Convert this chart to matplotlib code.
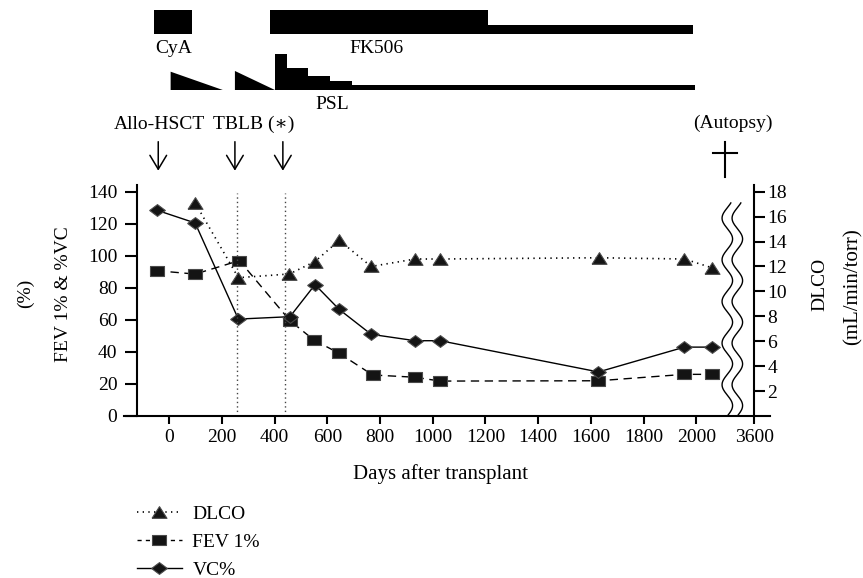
import numpy as np
import matplotlib
matplotlib.use("Agg")
import matplotlib.pyplot as plt
from matplotlib.transforms import blended_transform_factory

plt.rcParams["font.family"] = ["Liberation Serif", "DejaVu Serif"]
plt.rcParams["font.size"] = 14

# ---------------------------------------------------------------------------
# Data (days after transplant)
# ---------------------------------------------------------------------------
VC_DAYS = [-48, 98, 262, 458, 553, 645, 766, 933, 1028, 1629, 1955, 2059]
VC = [128.5, 120.5, 60.5, 62, 82, 66.5, 51, 47, 47, 27.5, 43, 43]

FEV_DAYS = [-48, 98, 266, 458, 549, 645, 772, 933, 1028, 1629, 1955, 2059]
FEV1 = [90.7, 88.6, 97, 59.5, 47.4, 39.1, 25.6, 24.2, 21.8, 22, 26, 26]

DLCO_DAYS = [98, 262, 456, 553, 645, 766, 933, 1028, 1631, 1955, 2059]
DLCO = [17.1, 11.1, 11.4, 12.4, 14.1, 12.0, 12.6, 12.6, 12.7, 12.6, 11.9]

XTICKS = [0, 200, 400, 600, 800, 1000, 1200, 1400, 1600, 1800, 2000]
BREAK_POS = 2220          # position of the "3600" tick after the axis break
BREAK_LABEL = "3600"
EVENT_LINES = [256, 439]  # TBLB and (*)
ARROW_DAYS = [-42, 249, 431]
AUTOPSY_POS = 2110

# treatment schedules: (start, end) in days, dose levels in relative units
CYA = (-58, 85)
FK506_HIGH = (382, 1211)
FK506_LOW = (1211, 1987)
PSL_TAPER_START = [5, 249]
PSL_TAPER_END = [203, 401]
PSL_TAPER_LEVEL = [1.0, 1.04]
PSL_STEP_START = [401, 446, 528, 610, 693]
PSL_STEP_END = [446, 528, 610, 693, 1996]
PSL_STEP_LEVEL = [1.95, 1.19, 0.78, 0.51, 0.27]

W, H = 863, 578


def fx(px):
    return px / W


def fy(py):
    return 1 - py / H


# custom marker shapes (wider than tall, like the original)
TRI = [(-1, -0.78), (1, -0.78), (0, 0.78), (-1, -0.78)]
SQR = [(-1, -0.7), (1, -0.7), (1, 0.7), (-1, 0.7), (-1, -0.7)]
DIA = [(-1, 0), (0, 0.75), (1, 0), (0, -0.75), (-1, 0)]

fig = plt.figure(figsize=(W / 100, H / 100), dpi=100)
ax = fig.add_axes([fx(124), fy(416), fx(770) - fx(124), fy(185) - fy(416)])
ax.set_xlim(-172, 2280)
YTOP = 144.2
ax.set_ylim(0, YTOP)
ax2 = ax.twinx()
ax2.set_ylim(0, YTOP * 18 / 140)

mk = dict(color="black", mfc="#141414", mec="#4a4a4a", mew=0.8)
ax.plot(FEV_DAYS, FEV1, lw=1, dashes=(6, 4), marker=SQR, ms=10, **mk)
ax.plot(VC_DAYS, VC, lw=1, ls="-", marker=DIA, ms=11.3, **mk)
ax2.plot(DLCO_DAYS, DLCO, lw=1.2, dashes=(0.8, 2.6), marker=TRI, ms=10.8, **mk)

for d in EVENT_LINES:
    ax.plot([d, d], [0, 139.2], color="#444444", lw=1, dashes=(1, 2.2))

# axis break (two wavy lines)
yy = np.linspace(0.5, 133, 300)
for c in (2118, 2156):
    ax.plot(c + 20 * np.sin(2 * np.pi * yy / 26), yy, color="black", lw=1)

# axes styling
ax.set_xticks(XTICKS + [BREAK_POS])
ax.set_xticklabels([str(t) for t in XTICKS] + [BREAK_LABEL])
ax.set_yticks(range(0, 141, 20))
ax.tick_params(axis="y", direction="out", length=8.5, width=1.5, pad=6)
ax.tick_params(axis="x", direction="out", length=6, width=1.5, pad=3.5)
ax.spines["top"].set_visible(False)
ax.spines["right"].set_visible(False)
ax.spines["left"].set_position(("data", -121))
ax.spines["left"].set_linewidth(1.5)
ax.spines["bottom"].set_linewidth(1.5)

ax2.set_yticks(range(2, 19, 2))
ax2.tick_params(axis="y", direction="out", length=8, width=1.5, pad=1.5)
for s in ("top", "left", "bottom"):
    ax2.spines[s].set_visible(False)
ax2.spines["right"].set_position(("data", BREAK_POS))
ax2.spines["right"].set_linewidth(1.5)

fig.text(fx(25), fy(293), "(%)", rotation=90, ha="center", va="center")
fig.text(fx(63), fy(294), "FEV 1% & %VC", rotation=90, ha="center", va="center")
fig.text(fx(820), fy(284), "DLCO", rotation=90, ha="center", va="center")
fig.text(fx(853), fy(287), "(mL/min/torr)", rotation=90, ha="center",
         va="center", fontsize=15)
fig.text(fx(440), fy(479), "Days after transplant", ha="center", va="baseline",
         fontsize=15)

# event labels and arrows above the plot
fig.text(fx(159), fy(129), "Allo-HSCT", ha="center", va="baseline")
fig.text(fx(254), fy(129), "TBLB (\u2217)", ha="center", va="baseline")
fig.text(fx(733), fy(128), "(Autopsy)", ha="center", va="baseline")
for d in ARROW_DAYS:
    ax.annotate("", xy=(d, fy(170.7)), xytext=(d, fy(141.7)),
                xycoords=("data", "figure fraction"),
                textcoords=("data", "figure fraction"),
                annotation_clip=False,
                arrowprops=dict(arrowstyle="->,head_length=0.5,head_width=0.3",
                                lw=1.1, color="black", shrinkA=0, shrinkB=0,
                                mutation_scale=20))
blend = blended_transform_factory(ax.transData, fig.transFigure)
ax.plot([AUTOPSY_POS, AUTOPSY_POS], [fy(141.7), fy(176.7)], transform=blend,
        clip_on=False, color="black", lw=1.5)
ax.plot([AUTOPSY_POS - 45, AUTOPSY_POS + 45], [fy(152.7), fy(152.7)],
        transform=blend, clip_on=False, color="black", lw=1.5)

# treatment panel
top = fig.add_axes([fx(124), fy(110), fx(770) - fx(124), 110 / H], sharex=ax)
top.axis("off")
top.set_ylim(0, 110)
FK_BASE, FK_HIGH, FK_LOW = 76, 24.5, 9
PSL_BASE, PSL_UNIT = 20, 18.3
top.bar(CYA[0], FK_HIGH, width=CYA[1] - CYA[0], bottom=FK_BASE, align="edge",
        color="black")
top.bar(FK506_HIGH[0], FK_HIGH, width=FK506_HIGH[1] - FK506_HIGH[0],
        bottom=FK_BASE, align="edge", color="black")
top.bar(FK506_LOW[0], FK_LOW, width=FK506_LOW[1] - FK506_LOW[0],
        bottom=FK_BASE, align="edge", color="black")
for s, e, lv in zip(PSL_TAPER_START, PSL_TAPER_END, PSL_TAPER_LEVEL):
    top.fill([s, s, e], [PSL_BASE, PSL_BASE + lv * PSL_UNIT, PSL_BASE],
             color="black", lw=0)
top.bar(PSL_STEP_START, [lv * PSL_UNIT for lv in PSL_STEP_LEVEL],
        width=np.array(PSL_STEP_END) - np.array(PSL_STEP_START),
        bottom=PSL_BASE, align="edge", color="black", lw=0)
top.text(15, 110 - 53.3, "CyA", ha="center", va="baseline")
top.text(785, 110 - 53.3, "FK506", ha="center", va="baseline")
top.text(617, 110 - 109.3, "PSL", ha="center", va="baseline")

# legend
handles = [
    plt.Line2D([], [], lw=1.2, dashes=(0.8, 2.6), marker=TRI, ms=10.8, **mk),
    plt.Line2D([], [], lw=1, dashes=(3, 3), marker=SQR, ms=10, **mk),
    plt.Line2D([], [], lw=1, ls="-", marker=DIA, ms=11.3, **mk),
]
fig.legend(handles, ["DLCO", "FEV 1%", "VC%"], loc="upper left",
           bbox_to_anchor=(fx(137), fy(505)), frameon=False, borderpad=0,
           borderaxespad=0, labelspacing=0.55, handlelength=2.3,
           handletextpad=0.55)

fig.savefig("out.png", dpi=100)
